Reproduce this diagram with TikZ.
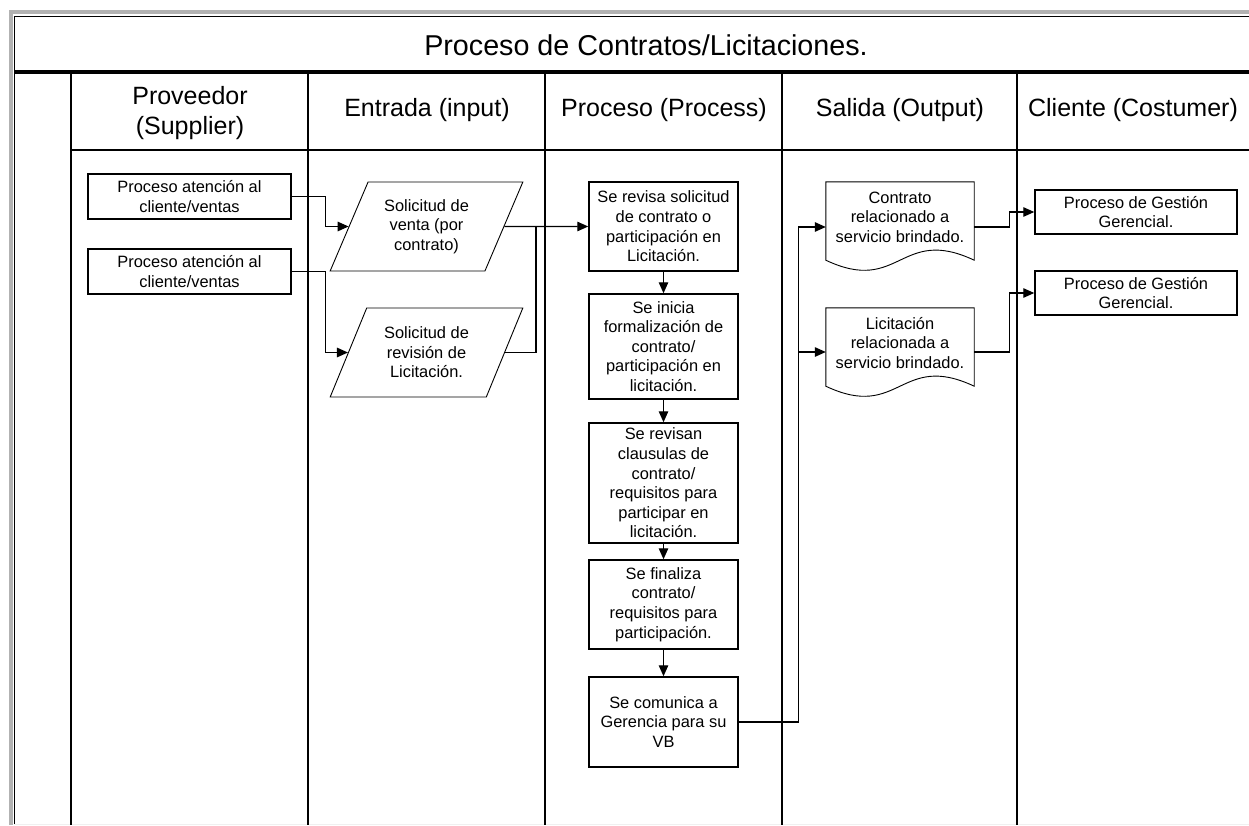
\documentclass[tikz,border=0pt]{standalone}
\usepackage{fontspec}
\setmainfont{Liberation Sans}
\usetikzlibrary{arrows.meta,shapes.geometric,calc}
\begin{document}
\begin{tikzpicture}[x=1pt,y=-1pt,
  every node/.style={inner sep=0pt, align=center, font=\fontsize{16.4}{19.6}\selectfont},
  frameline/.style={line width=1.6pt, black},
  lane/.style={line width=1.8pt, black},
  procbox/.style={draw, line width=1.5pt, rectangle},
  inbox/.style={draw, line width=0.9pt, trapezium, trapezium left angle=63.2,
    trapezium right angle=116.8, trapezium stretches=true,
    minimum width=193pt, minimum height=89pt},
  docbox/.style={minimum width=148pt, minimum height=70pt},
  docline/.style={line width=0.9pt},
  link/.style={line width=1.3pt},
  arr/.style={line width=1.3pt, -{Triangle[length=11pt,width=9.5pt]}},
  headtext/.style={font=\fontsize{25}{30}\selectfont},
]
\useasboundingbox (0,0) rectangle (1249,825);
\fill[white] (0,0) rectangle (1249,825);

% outer frame
\draw[line width=4pt, gray!60] (11,825) -- (11,12) -- (1249,12);
\draw[frameline] (14.5,825) -- (14.5,16.5) -- (1249,16.5);
\draw[line width=1pt, gray!12] (14,824) -- (1249,824);
\draw[line width=3.5pt] (14,72) -- (1249,72);
\draw[line width=1.5pt] (71,150) -- (1249,150);

% swimlane separators
\foreach \xx in {71,308,545,782,1017}
  \draw[lane] (\xx,72) -- (\xx,825);

% title and lane headers
\node[font=\fontsize{28.7}{32}\selectfont] (title) at (646,45) {Proceso de Contratos/Licitaciones.};
\node[headtext] (h1) at (190,113) {Proveedor\\(Supplier)};
\node[headtext] (h2) at (427,110) {Entrada (input)};
\node[headtext] (h3) at (664,110) {Proceso (Process)};
\node[headtext] (h4) at (900,110) {Salida (Output)};
\node[headtext] (h5) at (1133,110) {Cliente (Costumer)};

% supplier
\node[procbox, minimum width=203pt, minimum height=45pt] (p1) at (189.5,196.5) {Proceso atención al\\cliente/ventas};
\node[procbox, minimum width=203pt, minimum height=45pt] (p2) at (189.5,271.5) {Proceso atención al\\cliente/ventas};

% inputs
\node[inbox] (in1) at (426.5,226.5) {Solicitud de\\venta (por\\contrato)};
\node[inbox] (in2) at (426.5,352.5) {Solicitud de\\revisión de\\Licitación.};

% process steps
\node[procbox, minimum width=149pt, minimum height=89pt] (b1) at (663.5,226.5) {Se revisa solicitud\\de contrato o\\participación en\\Licitación.};
\node[procbox, minimum width=149pt, minimum height=105pt] (b2) at (663.5,346.5) {Se inicia\\formalización de\\contrato/\\participación en\\licitación.};
\node[procbox, minimum width=149pt, minimum height=120pt] (b3) at (663.5,483) {Se revisan\\clausulas de\\contrato/\\requisitos para\\participar en\\licitación.};
\node[procbox, minimum width=149pt, minimum height=89pt] (b4) at (663.5,604.5) {Se finaliza\\contrato/\\requisitos para\\participación.};
\node[procbox, minimum width=149pt, minimum height=90pt] (b5) at (663.5,722) {Se comunica a\\Gerencia para su\\VB};

% outputs (documents)
\node[docbox] (d1) at (900,217) {Contrato\\relacionado a\\servicio brindado.};
\node[docbox] (d2) at (900,343) {Licitación\\relacionada a\\servicio brindado.};
\foreach \d in {d1,d2}
  \draw[docline] (\d.north west) -- ($(\d.south west)+(0,8)$)
    .. controls ($(\d.south)+(0,43)$) and ($(\d.south)+(0,-27)$) .. ($(\d.south east)+(0,8)$)
    -- (\d.north east) -- cycle;

% customer
\node[procbox, minimum width=202pt, minimum height=44pt] (c1) at (1136,212) {Proceso de Gestión\\Gerencial.};
\node[procbox, minimum width=202pt, minimum height=44pt] (c2) at (1136,293) {Proceso de Gestión\\Gerencial.};

% connectors
\draw[arr] (p1.east) -- ++(34,0) |- (in1.west);
\draw[arr] (p2.east) -- ++(34,0) |- (in2.west);
\draw[arr] (in1.east) -- (b1.west);
\draw[link] (in2.east) -| ($(in1.east)+(31.5,0)$);
\draw[arr] (b1.south) -- (b2.north);
\draw[arr] (b2.south) -- (b3.north);
\draw[arr] (b3.south) -- (b4.north);
\draw[arr] (b4.south) -- (b5.north);
\draw[arr] (b5.east) -| ($(d1.west)+(-27,10)$) -- ($(d1.west)+(0,10)$);
\draw[arr] ($(d2.west)+(-27,9)$) -- ($(d2.west)+(0,9)$);
\draw[arr] ($(d1.east)+(0,10)$) -| ($(c1.west)+(-25,0)$) -- (c1.west);
\draw[arr] ($(d2.east)+(0,9)$) -| ($(c2.west)+(-25,0)$) -- (c2.west);
\end{tikzpicture}
\end{document}
